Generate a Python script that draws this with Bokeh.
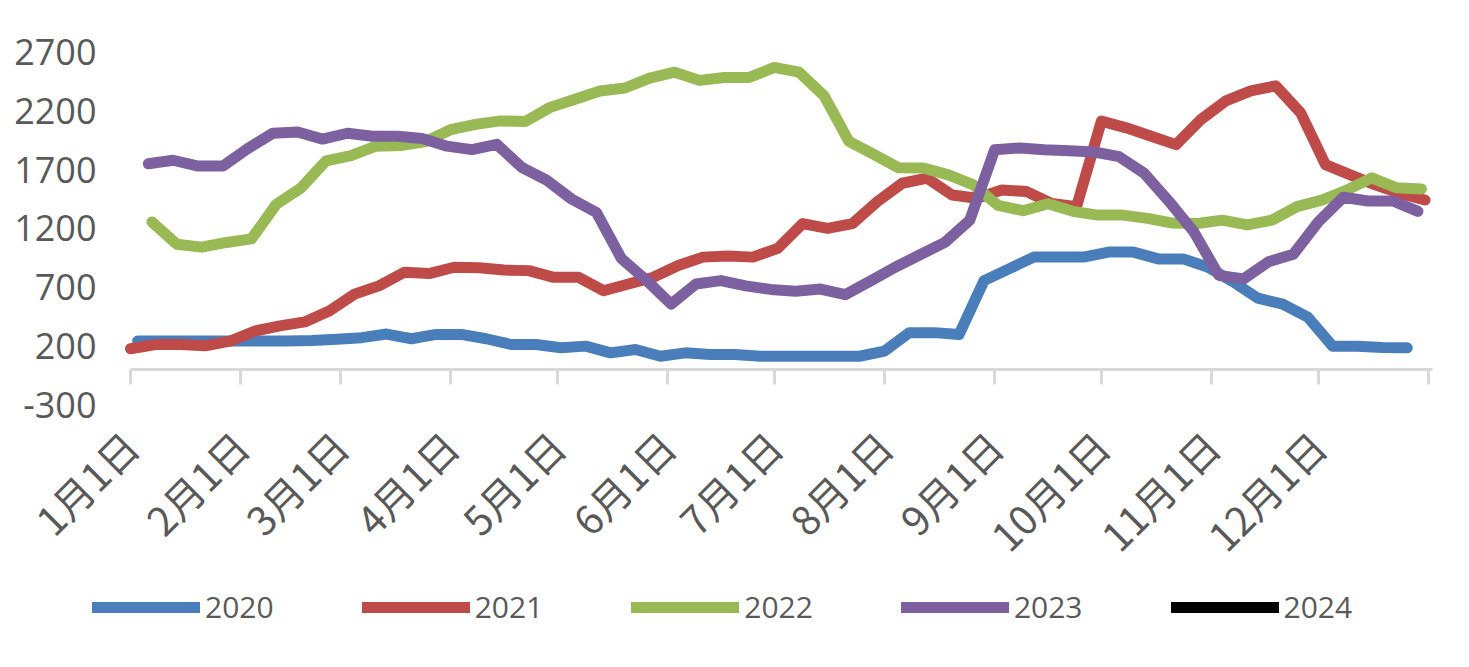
import math
from bokeh.plotting import figure
from bokeh.models import Range1d, FixedTicker, LinearAxis, Legend, LegendItem, ColumnDataSource
from bokeh.embed import file_html
from bokeh.resources import INLINE

# ---- data ----
month_labels = ["1月1日", "2月1日", "3月1日", "4月1日", "5月1日", "6月1日",
                "7月1日", "8月1日", "9月1日", "10月1日", "11月1日", "12月1日", ""]
month_days = [0, 31, 59, 90, 120, 151, 181, 212, 243, 273, 304, 334, 365]
y_ticks = [-300, 200, 700, 1200, 1700, 2200, 2700]

series_names = ["2020", "2021", "2022", "2023", "2024"]
# first weekly observation (day of year, 0 = Jan 1), weekly step
start_2020 = 2
start_2021 = 0
start_2022 = 6
start_2023 = 5
start_2024 = 5
step_days = 7

v2020 = [240, 240, 240, 240, 240, 240, 240, 245, 255, 269, 300, 260, 297, 297, 260, 211, 211, 183, 197, 140,
         168, 111, 140, 126, 126, 111, 111, 111, 111, 111, 154, 312, 312, 297, 755, 855, 955, 955, 955, 998,
         998, 940, 940, 869, 745, 605, 555, 445, 197, 197, 185, 183]
v2021 = [175, 210, 211, 200, 240, 326, 369, 403, 498, 640, 712, 826, 815, 869, 865, 845, 840, 783, 783, 669,
         726, 783, 884, 955, 965, 955, 1030, 1241, 1200, 1241, 1427, 1584, 1627, 1484, 1456, 1527, 1513, 1412,
         1384, 2113, 2056, 1985, 1913, 2127, 2285, 2371, 2414, 2185, 1742, 1656, 1570, 1498, 1441]
v2022 = [1255, 1065, 1040, 1080, 1110, 1405, 1545, 1775, 1820, 1900, 1905, 1940, 2040, 2085, 2115, 2110, 2230,
         2300, 2370, 2395, 2480, 2530, 2460, 2485, 2485, 2570, 2530, 2330, 1940, 1830, 1715, 1713, 1655, 1570,
         1395, 1350, 1410, 1345, 1313, 1313, 1285, 1245, 1241, 1270, 1230, 1270, 1385, 1440, 1525, 1630, 1545, 1535]
v2023 = [1750, 1780, 1730, 1730, 1880, 2010, 2020, 1960, 2010, 1985, 1985, 1965, 1900, 1870, 1915, 1720, 1610,
         1450, 1335, 945, 760, 555, 726, 755, 710, 680, 665, 683, 635, 750, 869, 975, 1080, 1270, 1870, 1885,
         1870, 1860, 1850, 1810, 1670, 1430, 1170, 800, 770, 915, 980, 1255, 1465, 1433, 1433, 1345]
v2024 = [float("nan")]   # no 2024 values shown in the chart (legend entry only)

colors = ["#4A7EBB", "#BE4B48", "#98B954", "#7D60A0", "#000000"]
starts = [start_2020, start_2021, start_2022, start_2023, start_2024]
values = [v2020, v2021, v2022, v2023, v2024]

# ---- layout constants (screen pixels) ----
W, H = 1453, 651
x0_px, x_end_px = 130, 1432          # Jan 1 and end of axis
y_top_px, y_bot_px = 51.7, 404       # 2700 and -300
sx = (x_end_px - x0_px) / 366.1
sy = (y_bot_px - y_top_px) / 3000.0
x_end_day = (x_end_px - x0_px) / sx

p = figure(width=W, height=H,
           x_range=Range1d(-x0_px / sx, (W - x0_px) / sx),
           y_range=Range1d(-300 - (H - y_bot_px) / sy, 2700 + y_top_px / sy),
           output_backend="svg", toolbar_location=None,
           x_axis_location=None, y_axis_location="left",
           min_border_left=0, min_border_right=0, min_border_top=0, min_border_bottom=0)
p.grid.visible = False
p.outline_line_color = None
p.background_fill_color = "white"
p.border_fill_color = "white"

# y axis: labels only, fixed at Jan 1
yax = p.yaxis[0]
yax.fixed_location = 0
yax.ticker = FixedTicker(ticks=y_ticks)
yax.major_label_overrides = {t: str(t) for t in y_ticks}
yax.axis_line_color = None
yax.major_tick_line_color = None
yax.minor_tick_line_color = None
yax.major_label_standoff = 28
yax.major_label_text_font = "Open Sans"
yax.major_label_text_font_size = "36px"
yax.major_label_text_color = "#595959"

# x axis line at y = 0 with ticks
ax0 = LinearAxis(fixed_location=0, bounds=(0, x_end_day), ticker=FixedTicker(ticks=month_days),
                 axis_line_color="#D9D9D9", axis_line_width=3,
                 major_tick_line_color="#D9D9D9", major_tick_line_width=3,
                 major_tick_out=15, major_tick_in=0, minor_tick_line_color=None,
                 major_label_overrides={d: "" for d in month_days},
                 major_label_text_font_size="10px")
p.add_layout(ax0, "below")

# x labels at bottom of plot area (y = -300)
ax1 = LinearAxis(fixed_location=-300, ticker=FixedTicker(ticks=month_days),
                 axis_line_color=None, major_tick_line_color=None, minor_tick_line_color=None,
                 major_label_overrides={d: lab for d, lab in zip(month_days, month_labels)},
                 major_label_orientation=math.pi / 4,
                 major_label_standoff=28,
                 major_label_text_font="Noto Sans CJK SC",
                 major_label_text_font_size="40px",
                 major_label_text_color="#595959")
p.add_layout(ax1, "below")

renderers = []
for name, st, vals, col in zip(series_names, starts, values, colors):
    xs = [st + step_days * i for i in range(len(vals))]
    src = ColumnDataSource(dict(x=xs, y=vals))
    r = p.line("x", "y", source=src, line_color=col, line_width=11,
               line_cap="round", line_join="round")
    renderers.append(r)

legend = Legend(items=[LegendItem(label=n, renderers=[r]) for n, r in zip(series_names, renderers)],
                orientation="horizontal", location=(92, 24),
                glyph_width=108, glyph_height=20, label_standoff=5, spacing=88,
                padding=0, margin=0, border_line_color=None, background_fill_alpha=0,
                label_text_font="Open Sans", label_text_font_size="30px",
                label_text_color="#595959")
p.add_layout(legend, "center")

open("out.html", "w").write(file_html(p, INLINE))
